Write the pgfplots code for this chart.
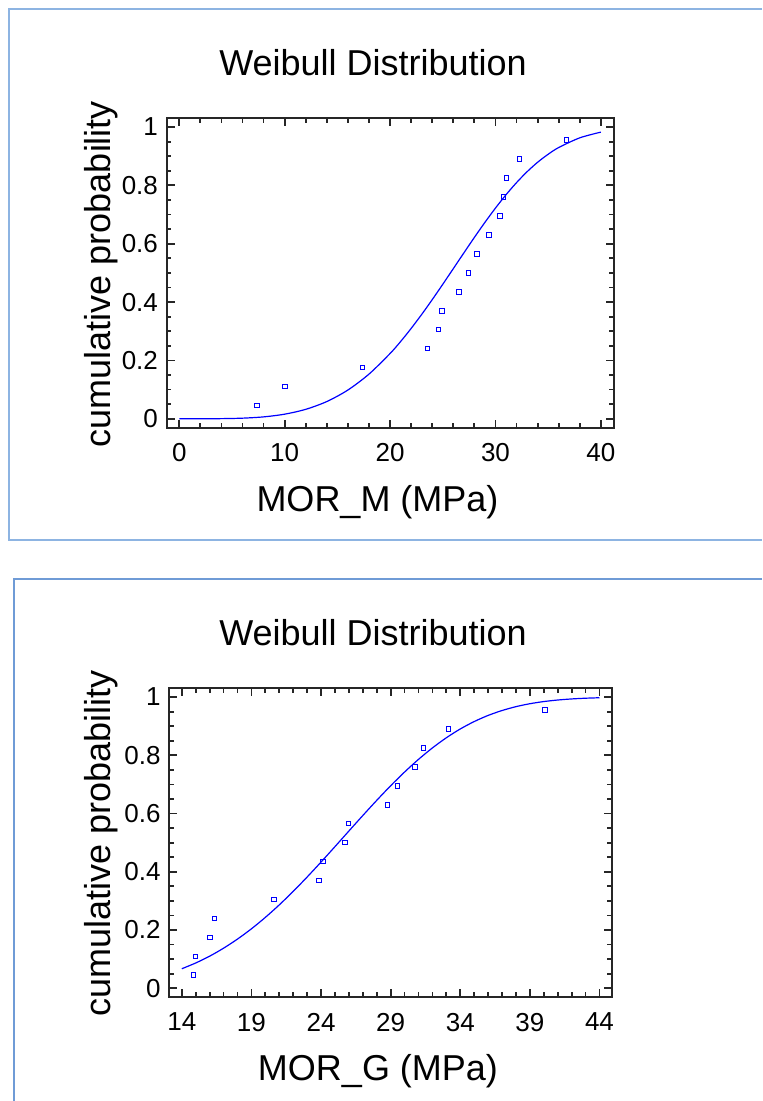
\documentclass[border=0pt]{standalone}
\usepackage{fontspec}
\setmainfont{Liberation Sans}
\usepackage{pgfplots}
\pgfplotsset{compat=1.18}
\definecolor{frameA}{HTML}{8DB4E2}
\definecolor{frameB}{HTML}{6F9BD6}
\definecolor{fitblue}{HTML}{0000FF}

\pgfplotsset{
  weib/.style={
    scale only axis,
    anchor=south west,
    axis line style={line width=1pt, black!85},
    tick style={line width=0.9pt, black!85},
    tick align=inside,
    major tick length=4pt,
    minor tick length=2.3pt,
    ymin=-0.03, ymax=1.03,
    ytick={0,0.2,0.4,0.6,0.8,1},
    yticklabels={0,0.2,0.4,0.6,0.8,1},
    minor y tick num=3,
    /pgf/number format/assume math mode=true,
    ticklabel style={font=\fontsize{13}{15}\selectfont},
    xticklabel style={yshift=-4.4pt},
    yticklabel style={xshift=-0.8pt},
  },
  fitline/.style={fitblue, line width=0.6pt, smooth, no marks},
  obs/.style={only marks, mark=square, mark size=1.1pt,
    mark options={draw=fitblue, line width=0.5pt, fill=none}},
}

\begin{document}
\begin{tikzpicture}
\begin{scope}[x=0.5pt, y=-0.5pt]
  \path[use as bounding box] (0,0) rectangle (762,1101);
  \draw[frameA, line width=1pt] (762,9) -- (8.5,9) -- (8.5,539.5) -- (762,539.5);
  \draw[frameB, line width=1pt] (762,578.5) -- (13.5,578.5) -- (13.5,1101);

  \node[anchor=base, font=\fontsize{18}{20}\selectfont] at (373,75.5) {Weibull Distribution};
  \node[anchor=base, font=\fontsize{18}{20}\selectfont] at (377.5,511.7) {MOR\_M (MPa)};
  \node[anchor=base, rotate=90, font=\fontsize{18}{20}\selectfont] at (110,274) {cumulative probability};

  \node[anchor=base, font=\fontsize{18}{20}\selectfont] at (373,645.5) {Weibull Distribution};
  \node[anchor=base, font=\fontsize{18}{20}\selectfont] at (378,1080) {MOR\_G (MPa)};
  \node[anchor=base, rotate=90, font=\fontsize{18}{20}\selectfont] at (110,843) {cumulative probability};
\end{scope}

% upper panel: MOR_M
\begin{axis}[weib,
  at={(83.3pt,-213.75pt)},
  width=223.45pt, height=154.6pt,
  xmin=-1.2, xmax=41.2,
  xtick={0,10,20,30,40},
  minor x tick num=4,
]
\addplot[fitline] coordinates {
  (0,0) (2,0.0000) (4,0.0004) (6,0.0020) (8,0.0064) (10,0.0157)
  (12,0.0323) (14,0.0590) (16,0.0985) (18,0.1530) (20,0.2236)
  (21,0.2647) (22,0.3096) (23,0.3576) (24,0.4083) (25,0.4609)
  (26,0.5146) (27,0.5684) (28,0.6217) (29,0.6732) (30,0.7222)
  (31,0.7679) (32,0.8095) (33,0.8468) (34,0.8793) (35,0.9067)
  (36,0.9298) (38,0.9630) (40,0.9826)
};
\addplot[obs] coordinates {
  (7.36,0.045) (10.03,0.110) (17.36,0.175) (23.58,0.240) (24.62,0.305)
  (24.91,0.370) (26.54,0.435) (27.45,0.500) (28.24,0.565) (29.37,0.630)
  (30.44,0.695) (30.75,0.760) (31.04,0.825) (32.26,0.890) (36.76,0.955)
};
\end{axis}

% lower panel: MOR_G
\begin{axis}[weib,
  at={(84.65pt,-498.5pt)},
  width=221.35pt, height=154.35pt,
  xmin=13.1, xmax=44.9,
  xtick={14,19,24,29,34,39,44},
  minor x tick num=4,
]
\addplot[fitline] coordinates {
  (14,0.0671) (15,0.0869) (16,0.1103) (17,0.1377) (18,0.1690)
  (19,0.2042) (20,0.2435) (21,0.2864) (22,0.3328) (23,0.3820)
  (24,0.4335) (25,0.4864) (26,0.5400) (27,0.5932) (28,0.6453)
  (29,0.6954) (30,0.7425) (31,0.7860) (32,0.8253) (33,0.8602)
  (34,0.8904) (35,0.9158) (36,0.9369) (37,0.9537) (38,0.9670)
  (39,0.9771) (40,0.9845) (41,0.9898) (42,0.9935) (43,0.9960)
  (44,0.9976)
};
\addplot[obs] coordinates {
  (14.83,0.045) (14.97,0.110) (16.02,0.175) (16.33,0.240) (20.61,0.305)
  (23.84,0.370) (24.13,0.435) (25.72,0.500) (25.96,0.565) (28.76,0.630)
  (29.50,0.695) (30.76,0.760) (31.38,0.825) (33.16,0.890) (40.08,0.955)
};
\end{axis}
\end{tikzpicture}
\end{document}
